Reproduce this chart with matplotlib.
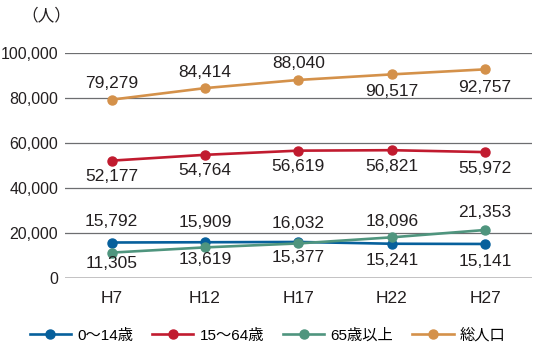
import matplotlib
matplotlib.use("Agg")
import matplotlib.pyplot as plt
from matplotlib.lines import Line2D

plt.rcParams["font.family"] = ["Liberation Sans", "Noto Sans CJK JP", "DejaVu Sans"]

years = ["H7", "H12", "H17", "H22", "H27"]
age_0_14 = [15792, 15909, 16032, 15241, 15141]
age_15_64 = [52177, 54764, 56619, 56821, 55972]
age_65_over = [11305, 13619, 15377, 18096, 21353]
total = [79279, 84414, 88040, 90517, 92757]

series_names = ["0～14歳", "15～64歳", "65歳以上", "総人口"]
colors = ["#07609c", "#c11b2f", "#4f957e", "#d4914a"]

# label offsets in pixels (+ above, - below)
label_dy = [
    [21, 20, 18, -17, -18],
    [-16, -16, -16, -16, -16],
    [-11, -12, -14, 16, 17],
    [16, 16, 16, -17, -18],
]

fig = plt.figure(figsize=(5.35, 3.56), dpi=100)
ax = fig.add_axes([0.1215, 0.219, 0.8725, 0.632])

x = range(len(years))
all_series = [age_0_14, age_15_64, age_65_over, total]
for vals, c in zip(all_series, colors):
    ax.plot(x, vals, color=c, lw=1.9, marker="o", markersize=6.5, zorder=3)

for vals, dys in zip(all_series, label_dy):
    for i, (v, dy) in enumerate(zip(vals, dys)):
        ax.annotate(f"{v:,}", (i, v), xytext=(0, dy), textcoords="offset pixels",
                    ha="center", va="center", fontsize=12.5, color="#231f20")

ax.set_xlim(-0.5, 4.5)
ax.set_ylim(0, 100000)
ax.set_yticks(range(0, 100001, 20000))
ax.set_yticklabels([f"{v:,}" for v in range(0, 100001, 20000)],
                   fontsize=11.5, color="#231f20",
                   family=["Liberation Sans Narrow", "Liberation Sans"])
ax.set_xticks(list(x))
ax.set_xticklabels(years, fontsize=12.5, color="#231f20")
ax.tick_params(length=0, pad=5)
ax.tick_params(axis="x", pad=9)
ax.grid(axis="y", color="#6d6e70", lw=0.9)
ax.axhline(0, color="#231f20", lw=1.0, zorder=2)
for s in ax.spines.values():
    s.set_visible(False)
ax.set_axisbelow(True)

fig.text(0.04, 0.955, "（人）", fontsize=12, color="#231f20",
         family=["Noto Sans CJK JP"], ha="left", va="center")

handles = [Line2D([], [], color=c, lw=1.9, marker="o", markersize=6.5) for c in colors]
fig.legend(handles, series_names, loc="center", bbox_to_anchor=(0.5, 0.058),
           ncol=4, frameon=False, handlelength=2.7,
           handletextpad=0.4, columnspacing=1.25,
           prop={"family": ["Liberation Sans", "Noto Sans CJK JP"], "size": 11})

fig.savefig("out.png", dpi=100)
